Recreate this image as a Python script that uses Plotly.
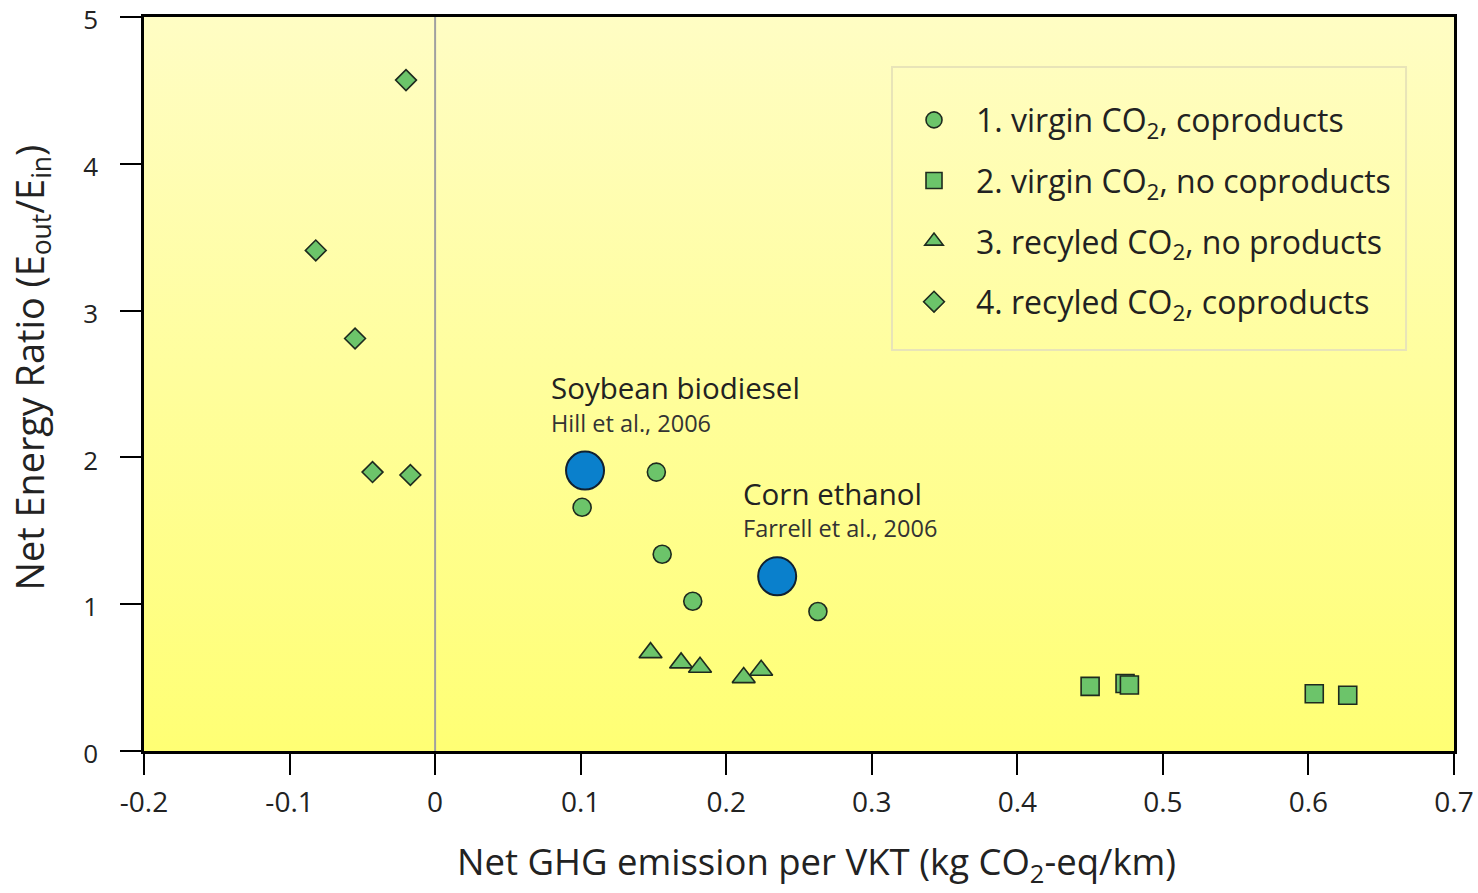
import plotly.graph_objects as go

# Net GHG emission per VKT (kg CO2-eq/km) and net energy ratio per scenario
virgin_coprod_x = [0.152, 0.101, 0.156, 0.177, 0.263]
virgin_coprod_y = [1.90, 1.66, 1.34, 1.02, 0.95]

virgin_nocoprod_x = [0.450, 0.474, 0.477, 0.604, 0.627]
virgin_nocoprod_y = [0.44, 0.46, 0.45, 0.39, 0.38]

recycled_noprod_x = [0.148, 0.169, 0.182, 0.212, 0.224]
recycled_noprod_y = [0.67, 0.60, 0.57, 0.50, 0.55]

recycled_coprod_x = [-0.020, -0.082, -0.055, -0.043, -0.017]
recycled_coprod_y = [4.57, 3.41, 2.81, 1.90, 1.88]

# Reference fuels
ref_names = ["Soybean biodiesel", "Corn ethanol"]
ref_sources = ["Hill et al., 2006", "Farrell et al., 2006"]
ref_x = [0.103, 0.235]
ref_y = [1.91, 1.19]

series_names = [
    "1. virgin CO<sub>2</sub>, coproducts",
    "2. virgin CO<sub>2</sub>, no coproducts",
    "3. recyled CO<sub>2</sub>, no products",
    "4. recyled CO<sub>2</sub>, coproducts",
]

x_title = "Net GHG emission per VKT (kg CO<sub>2</sub>-eq/km)"
y_title = "Net Energy Ratio (E<sub>out</sub>/E<sub>in</sub>)"

x_ticks = [-0.2, -0.1, 0, 0.1, 0.2, 0.3, 0.4, 0.5, 0.6, 0.7]
x_tick_text = ["-0.2", "-0.1", "0", "0.1", "0.2", "0.3", "0.4", "0.5", "0.6", "0.7"]
y_ticks = [0, 1, 2, 3, 4, 5]

X_RANGE = [-0.2, 0.7]
Y_RANGE = [0, 5]

FONT = "Open Sans"
GREEN = "#6cc46a"
EDGE = "#1e2a1e"
TEXT = "#222222"

fig = go.Figure()

# Yellow gradient panel behind the data
fig.add_trace(go.Scatter(
    x=[X_RANGE[0], X_RANGE[1], X_RANGE[1], X_RANGE[0], X_RANGE[0]],
    y=[Y_RANGE[0], Y_RANGE[0], Y_RANGE[1], Y_RANGE[1], Y_RANGE[0]],
    mode="lines", fill="toself", line=dict(width=0),
    fillgradient=dict(type="vertical", start=Y_RANGE[0], stop=Y_RANGE[1],
                      colorscale=[[0, "#ffff74"], [1, "#fffdc4"]]),
    hoverinfo="skip", showlegend=False,
))

# Zero-emission reference line
fig.add_trace(go.Scatter(
    x=[0, 0], y=Y_RANGE, mode="lines",
    line=dict(color="#a0a0a0", width=2),
    hoverinfo="skip", showlegend=False,
))

series = [
    (virgin_coprod_x, virgin_coprod_y, "circle", 18),
    (virgin_nocoprod_x, virgin_nocoprod_y, "square", 18),
    (recycled_noprod_x, recycled_noprod_y, "triangle-up", 20),
    (recycled_coprod_x, recycled_coprod_y, "diamond", 16),
]
for i, (xs, ys, sym, size) in enumerate(series):
    fig.add_trace(go.Scatter(
        x=xs, y=ys, mode="markers", name=series_names[i],
        legendgroup=f"g{i}",
        marker=dict(symbol=sym, size=size, color=GREEN,
                    line=dict(color=EDGE, width=1.6)),
    ))

fig.add_trace(go.Scatter(
    x=ref_x, y=ref_y, mode="markers", showlegend=False,
    marker=dict(symbol="circle", size=38, color="#0a80cc",
                line=dict(color="#102030", width=2)),
))

for name, src, x, y in zip(ref_names, ref_sources, ref_x, ref_y):
    fig.add_annotation(
        x=x, y=y, xref="x", yref="y", ax=-36, ay=-83, axref="pixel", ayref="pixel",
        text=name, showarrow=True, arrowcolor="rgba(0,0,0,0)", arrowwidth=0.1,
        xanchor="left", yanchor="middle",
        font=dict(family=FONT, size=29.5, color=TEXT),
    )
    fig.add_annotation(
        x=x, y=y, xref="x", yref="y", ax=-36, ay=-48, axref="pixel", ayref="pixel",
        text=src, showarrow=True, arrowcolor="rgba(0,0,0,0)", arrowwidth=0.1,
        xanchor="left", yanchor="middle",
        font=dict(family=FONT, size=23.5, color="#333333"),
    )

# Axis titles
fig.add_annotation(
    text=x_title, xref="paper", yref="paper", x=0.5134, y=-0.153,
    xanchor="center", yanchor="middle", showarrow=False,
    font=dict(family=FONT, size=36.5, color=TEXT),
)
fig.add_annotation(
    text=y_title, xref="paper", yref="paper", x=-0.0855, y=0.5225,
    xanchor="center", yanchor="middle", showarrow=False, textangle=-90,
    font=dict(family=FONT, size=37.8, color=TEXT),
)

# Legend frame
fig.add_shape(
    type="rect", xref="paper", yref="paper",
    x0=0.571, x1=0.9634, y0=0.5463, y1=0.9319,
    line=dict(color="#e8e4b8", width=2), fillcolor="rgba(0,0,0,0)", layer="above",
)

axis_common = dict(
    showline=True, linecolor="black", linewidth=2.5, mirror=True,
    ticks="outside", tickcolor="black", tickwidth=2, ticklen=21,
    showgrid=False, zeroline=False, ticklabeloverflow="allow",
)

fig.update_xaxes(
    range=X_RANGE, tickvals=x_ticks, ticktext=x_tick_text, ticklabelstandoff=4,
    tickfont=dict(family=FONT, size=28, color=TEXT),
    **axis_common,
)
fig.update_yaxes(
    range=Y_RANGE, tickvals=y_ticks, ticklabelstandoff=17, ticklabelshift=3,
    tickfont=dict(family=FONT, size=26, color=TEXT),
    **axis_common,
)

fig.update_layout(
    width=1478, height=893,
    margin=dict(l=144, r=24, t=17, b=142, autoexpand=False),
    paper_bgcolor="white", plot_bgcolor="white",
    legend=dict(
        x=0.571, y=0.897, xanchor="left", yanchor="top",
        xref="paper", yref="paper",
        bgcolor="rgba(0,0,0,0)", borderwidth=0,
        font=dict(family=FONT, size=32, color=TEXT),
        traceorder="grouped", tracegroupgap=16, itemsizing="trace",
        itemwidth=74,
    ),
)

fig.write_html("out.html")
